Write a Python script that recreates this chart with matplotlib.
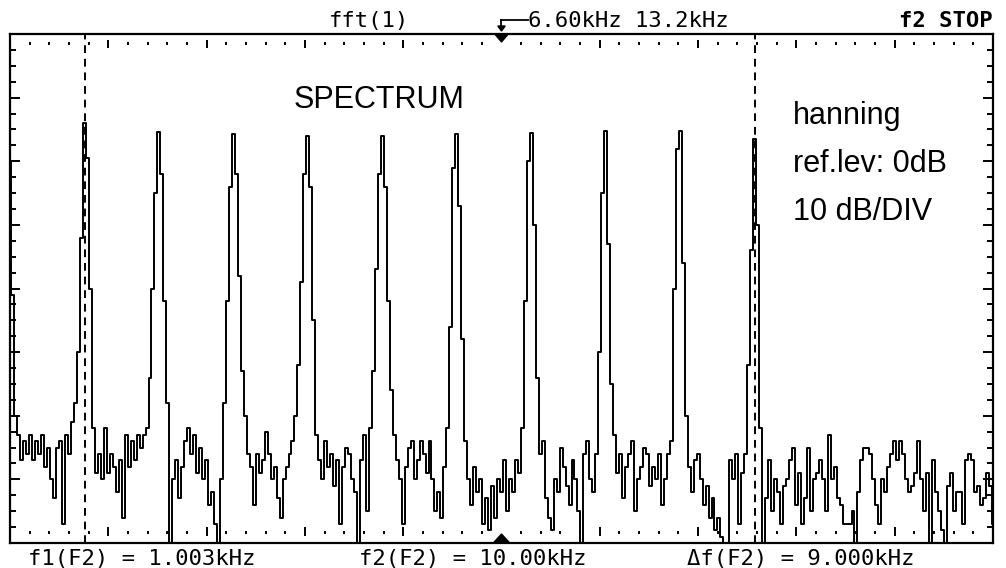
import numpy as np
import matplotlib
matplotlib.use("Agg")
import matplotlib.pyplot as plt
from matplotlib.patches import Polygon
from matplotlib.lines import Line2D
import matplotlib.transforms as mtransforms

# scope settings
span_khz = 13.2        # 10 div * 1.32 kHz
bin_khz = 0.04         # spacing of the trace samples
ref_level_db = 0
db_per_div = 10
n_ydiv = 8
marker_khz = 6.60
cursor_f1 = 1.003
cursor_f2 = 10.00

# FFT trace in dB, one row per kHz (peak first)
level_db = [
    -20, -41, -60, -63, -67, -64, -66, -63, -67, -64, -66, -63, -68, -65, -70, -73, -65, -64, -77, -63, -66, -61, -58, -50, -32,
    -14, -19.5, -40, -62, -69, -66, -70, -62, -69, -66, -68, -72, -67, -76, -63, -68, -64, -67, -63, -65, -63, -62, -54, -40, -25,
    -15.4, -22, -42, -58, -80, -70, -67, -73, -68, -64, -62, -66, -63, -69, -65, -70, -67, -74, -72, -77, -80, -70, -58, -42, -24,
    -15.7, -22, -38, -53, -60, -66, -68, -74, -66, -69, -67, -62.5, -66, -70, -68, -73, -76, -70, -68, -66, -64, -60, -52, -39, -22,
    -16, -24, -45, -63, -67, -70, -64, -68, -66, -71, -67, -77, -68, -65, -66, -70, -72, -80, -67, -63, -75, -62, -53, -37, -22,
    -16, -24, -42, -56, -63, -67, -70, -77, -68, -65, -64, -70, -67, -64, -66, -69, -64, -70, -75, -72, -76, -68, -62, -46, -21,
    -15.7, -27, -48, -64, -70, -74, -68, -72, -70, -77, -73, -78, -71, -76, -70, -72, -67, -75, -70, -72, -67, -69, -62, -42, -20,
    -15.6, -30, -54, -66, -64, -73, -76, -78, -70, -72, -65, -68, -71, -74, -67, -70, -75, -80, -66, -64, -70, -72, -66, -50, -25,
    -15.2, -33, -55, -63, -69, -66, -73, -68, -66, -64, -75, -70, -68, -65, -66, -71, -68, -70, -66, -74, -70, -66, -64, -40, -18,
    -15.2, -36, -60, -68, -72, -67, -66, -70, -74, -71, -76, -73, -78, -76, -79, -80, -80, -67, -70, -66, -77, -69, -66, -52, -34,
    -16.5, -30, -62, -80, -73, -67, -75, -70, -72, -77, -71, -70, -67, -65, -74, -69, -77, -73, -65, -75, -70, -69, -67, -70, -75,
    -63, -70, -68, -73, -74, -77, -77, -77, -75, -80, -72, -67, -65, -65, -66, -70, -74, -77, -70, -72, -68, -66, -64, -67, -64,
    -66, -70, -72, -71, -69, -64, -70, -75, -69, -80, -67, -72, -75, -78, -80, -71, -69, -75, -72, -72, -77, -67, -66, -67, -72,
    -71, -74, -73, -69, -71, -77,
]
freq_khz = np.arange(len(level_db)) * bin_khz

W, H = 1006, 568
fig = plt.figure(figsize=(W / 100, H / 100), dpi=100)
ax = fig.add_axes([10 / W, 25 / H, 983 / W, 509 / H])

ax.plot(freq_khz, level_db, color="black", lw=1.4, drawstyle="steps-mid")
ax.set_xlim(0, span_khz)
ax.set_ylim(ref_level_db - db_per_div * n_ydiv, ref_level_db)

for s in ax.spines.values():
    s.set_linewidth(1.6)

# graticule ticks on left/right edges
ax.set_xticks([])
ax.set_yticks(np.arange(-80, 1, 10))
ax.set_yticks(np.arange(-80, 1, 2.5), minor=True)
ax.yaxis.set_ticks_position("both")
ax.tick_params(axis="y", which="major", direction="in", length=7, width=1.4, labelleft=False)
ax.tick_params(axis="y", which="minor", direction="in", length=4.3, width=1.4)

# little marks just inside top and bottom
xt = ax.get_xaxis_transform()
minor_x = np.arange(1, 50) * span_khz / 50
for x in minor_x:
    if abs(x - marker_khz) < 0.01:
        continue
    major = abs(x / 1.32 - round(x / 1.32)) < 1e-6
    if major:
        ax.plot([x, x], [0.972, 0.988], color="black", lw=1.4, transform=xt, solid_capstyle="butt")
        ax.plot([x, x], [0.014, 0.031], color="black", lw=1.4, transform=xt, solid_capstyle="butt")
    else:
        ax.plot([x, x], [0.978, 0.984], color="black", lw=1.4, transform=xt, solid_capstyle="butt")
        ax.plot([x, x], [0.018, 0.024], color="black", lw=1.4, transform=xt, solid_capstyle="butt")

# cursors
for fc in (cursor_f1, cursor_f2):
    ax.axvline(fc, color="black", lw=1.4, dashes=(4, 3))

# center markers
dx = 0.09
ax.add_patch(Polygon([(marker_khz - dx, 1), (marker_khz + dx, 1), (marker_khz, 1 - 8 / 509)],
                     closed=True, color="black", transform=xt, clip_on=False))
ax.add_patch(Polygon([(marker_khz - 0.11, 0), (marker_khz + 0.11, 0), (marker_khz, 9 / 509)],
                     closed=True, color="black", transform=xt, clip_on=False))

bt = mtransforms.blended_transform_factory(ax.transData, fig.transFigure)
y_top = 1 - 20 / H
fig.add_artist(Line2D([marker_khz, marker_khz + 0.36], [y_top, y_top], color="black", lw=1.3, transform=bt))
fig.add_artist(Line2D([marker_khz, marker_khz], [y_top, 1 - 27 / H], color="black", lw=1.3, transform=bt))
fig.add_artist(Polygon([(marker_khz - 0.05, 1 - 26 / H), (marker_khz + 0.05, 1 - 26 / H), (marker_khz, 1 - 31 / H)],
                       closed=True, color="black", transform=bt))

def py(y):
    return 1 - y / H

lcd = dict(family="DejaVu Sans Mono", fontsize=16, va="baseline", color="black")
fig.text(369 / W, py(27), "fft(1)", ha="center", **lcd)
fig.text(528 / W, py(27), "6.60kHz 13.2kHz", ha="left", **lcd)
fig.text(993 / W, py(27), "f2 STOP", ha="right", fontweight="bold", **lcd)
fig.text(142 / W, py(565), "f1(F2) = 1.003kHz", ha="center", **lcd)
fig.text(473 / W, py(565), "f2(F2) = 10.00kHz", ha="center", **lcd)
fig.text(801 / W, py(565), "\u0394f(F2) = 9.000kHz", ha="center", **lcd)

sans = dict(family="Liberation Sans", fontsize=22, va="baseline", ha="left", color="black")
fig.text(294 / W, py(108), "SPECTRUM", **sans)
fig.text(793 / W, py(124), "hanning", **sans)
fig.text(793 / W, py(172), "ref.lev: 0dB", **sans)
fig.text(793 / W, py(220), "10 dB/DIV", **sans)

fig.savefig("out.png", dpi=100)
